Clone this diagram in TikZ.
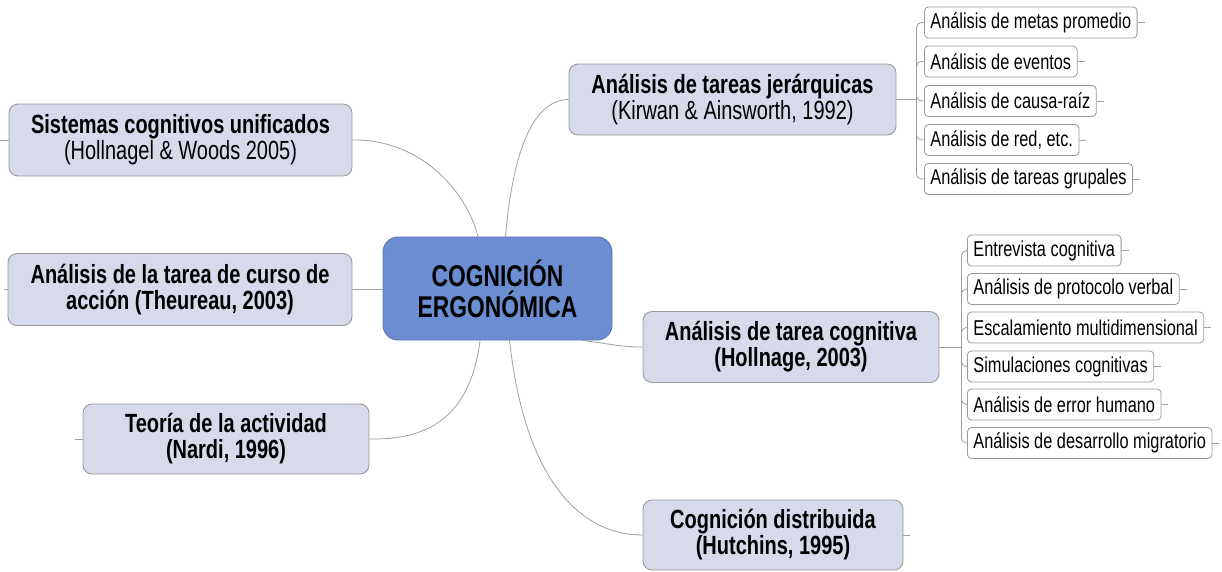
\documentclass[tikz,border=0pt]{standalone}
\usepackage{fontspec}
\setmainfont[FakeStretch=0.76]{Liberation Sans}
\usetikzlibrary{backgrounds,calc}
\definecolor{boxfill}{HTML}{D6DAEA}
\definecolor{boxline}{HTML}{9A9A9A}
\definecolor{cogfill}{HTML}{6A8ED1}
\definecolor{cogline}{HTML}{5A78B0}
\definecolor{conn}{HTML}{A0A0A0}
\begin{document}
\begin{tikzpicture}[x=1pt,y=-1pt,
  mainbox/.style={draw=boxline,line width=0.9pt,fill=boxfill,rounded corners=9pt,align=center,
    font=\fontsize{26.3}{26}\selectfont,inner sep=0pt},
  cogbox/.style={draw=cogline,line width=0.9pt,fill=cogfill,rounded corners=15pt,align=center,
    font=\fontsize{30}{31}\selectfont\bfseries,inner sep=0pt,minimum width=229,minimum height=103},
  leaf/.style={draw=boxline,line width=0.8pt,fill=white,rounded corners=4pt,anchor=west,
    font=\fontsize{21.5}{19}\selectfont,minimum height=31,inner xsep=6pt,inner ysep=0pt},
  link/.style={draw=conn,line width=0.8pt},
  bracket/.style={draw=conn,line width=0.8pt,rounded corners=5pt}]
\useasboundingbox (0,0) rectangle (1222,571);

% central node
\node[cogbox] (cog) at (497.5,288.5) {COGNICIÓN\\ERGONÓMICA};

% main topics
\node[mainbox,minimum width=343,minimum height=72] (sis) at (180.5,140)
  {\textbf{Sistemas cognitivos unificados}\\(Hollnagel \& Woods 2005)};
\node[mainbox,minimum width=344,minimum height=72] (acc) at (180,289.5)
  {\textbf{Análisis de la tarea de curso de}\\\textbf{acción (Theureau, 2003)}};
\node[mainbox,minimum width=286,minimum height=70] (teo) at (226,439)
  {\textbf{Teoría de la actividad}\\\textbf{(Nardi, 1996)}};
\node[mainbox,minimum width=327,minimum height=71] (jer) at (732.5,99.5)
  {\textbf{Análisis de tareas jerárquicas}\\(Kirwan \& Ainsworth, 1992)};
\node[mainbox,minimum width=296,minimum height=71] (tc) at (791,347)
  {\textbf{Análisis de tarea cognitiva}\\\textbf{(Hollnage, 2003)}};
\node[mainbox,minimum width=260,minimum height=70] (dist) at (773,535)
  {\textbf{Cognición distribuida}\\\textbf{(Hutchins, 1995)}};

% leaves of jer
\node[leaf] (j1) at (924,22.5) {Análisis de metas promedio};
\node[leaf] (j2) at (924,61.5) {Análisis de eventos};
\node[leaf] (j3) at (924,101) {Análisis de causa-raíz};
\node[leaf] (j4) at (924,140) {Análisis de red, etc.};
\node[leaf] (j5) at (924,179) {Análisis de tareas grupales};

% leaves of tc
\node[leaf] (k1) at (967,250.5) {Entrevista cognitiva};
\node[leaf] (k2) at (967,289) {Análisis de protocolo verbal};
\node[leaf] (k3) at (967,327.5) {Escalamiento multidimensional};
\node[leaf] (k4) at (967,366.5) {Simulaciones cognitivas};
\node[leaf] (k5) at (967,404.5) {Análisis de error humano};
\node[leaf] (k6) at (967,443) {Análisis de desarrollo migratorio};

\coordinate (jt) at ($(jer.east)+(20,0)$);
\coordinate (kt) at ($(tc.east)+(22,0)$);

\begin{scope}[on background layer]
  % connectors from the centre
  \draw[link] ($(cog.north)+(-19.5,0)$) .. controls (466,190) and (420,139) .. (sis.east);
  \draw[link] (acc.east) -- (cog.west |- acc.east);
  \draw[link] ($(cog.south)+(-17.5,0)$) .. controls (470,420) and (425,440) .. (teo.east);
  \draw[link] ($(cog.north)+(8,0)$) .. controls (512,160) and (530,100) .. (jer.west);
  \draw[link] ($(cog.south east)+(-30,0)$) .. controls (605,343) and (620,347) .. (tc.west);
  \draw[link] ($(cog.south)+(12,0)$) .. controls (525,480) and (580,535) .. (dist.west);
\end{scope}

% brackets
\draw[link] (jer.east) -- (jt);
\foreach \n in {j1,j2,j3,j4,j5} \draw[bracket] (jt) |- (\n.west);
\draw[link] (tc.east) -- (kt);
\foreach \n in {k1,k2,k3,k4,k5,k6} \draw[bracket] (kt) |- (\n.west);

% stubs
\foreach \n in {j1,j2,j3,j4,j5,k1,k2,k3,k4,k5,k6,dist} \draw[link] (\n.east) -- ++(7,0);
\draw[link] (sis.west) -- ++(-9,0);
\draw[link] (acc.west) -- ++(-4,0);
\draw[link] (teo.west) -- ++(-8,0);
\end{tikzpicture}
\end{document}
